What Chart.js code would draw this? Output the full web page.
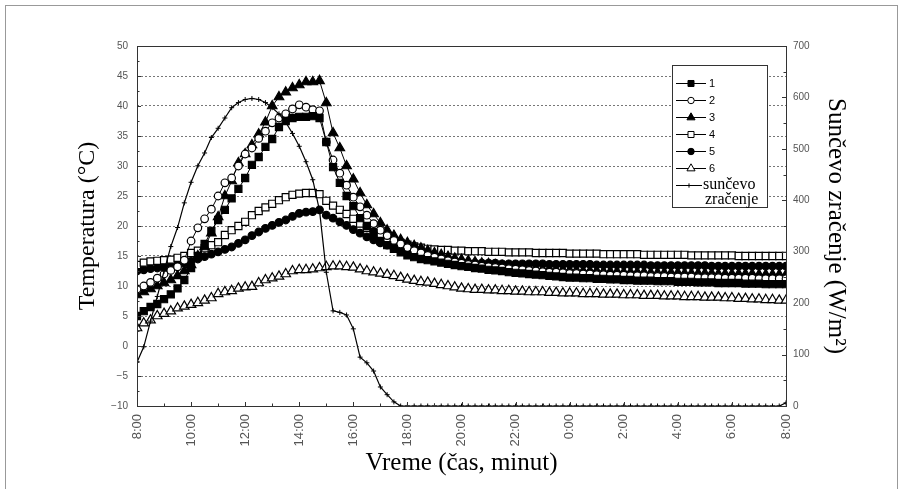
<!DOCTYPE html>
<html>
<head>
<meta charset="utf-8">
<script src="https://cdn.jsdelivr.net/npm/chart.js@4.4.1/dist/chart.umd.min.js"></script>
<style>
  html, body { margin: 0; padding: 0; background: #fff; }
</style>
</head>
<body>
<canvas id="chart" width="905" height="489"></canvas>
<script>
// x axis labels, one every 2 hours (8:00 -> 8:00 next day)
const tickLabels = ["8:00", "10:00", "12:00", "14:00", "16:00", "18:00", "20:00",
                    "22:00", "0:00", "2:00", "4:00", "6:00", "8:00"];
const stepHours = 0.25; // one reading every 15 min

// temperatures (°C), each row = 2 hours of readings
const s1 = [
  5.0, 5.8, 6.5, 7.0, 7.8, 8.6, 9.6, 11.0,
  13.0, 15.0, 17.0, 19.2, 21.0, 22.7, 24.6, 26.2,
  28.0, 30.2, 31.5, 33.2, 34.5, 36.5, 37.5, 38.0,
  38.2, 38.2, 38.3, 38.0, 34.0, 29.8, 27.2, 25.0,
  23.3, 21.3, 20.0, 18.8, 17.5, 16.8, 16.2, 15.6,
  15.1, 14.8, 14.5, 14.3, 14.1, 13.9, 13.7, 13.5,
  13.3, 13.2, 13.0, 12.9, 12.7, 12.6, 12.5, 12.3,
  12.2, 12.1, 12.0, 11.9, 11.8, 11.7, 11.6, 11.5,
  11.4, 11.4, 11.3, 11.3, 11.2, 11.2, 11.1, 11.1,
  11.0, 11.0, 10.9, 10.9, 10.9, 10.8, 10.8, 10.8,
  10.7, 10.7, 10.7, 10.6, 10.6, 10.6, 10.5, 10.5,
  10.5, 10.5, 10.4, 10.4, 10.4, 10.3, 10.3, 10.3,
  10.3
];
const s2 = [
  9.5, 10.0, 10.6, 11.3, 12.0, 12.6, 13.2, 14.3,
  17.5, 19.7, 21.2, 22.8, 25.0, 27.2, 28.0, 30.0,
  32.0, 33.0, 34.6, 35.8, 37.2, 38.0, 38.7, 39.5,
  40.2, 39.8, 39.4, 39.2, 34.0, 31.0, 28.8, 26.8,
  24.8, 23.2, 21.8, 20.4, 19.3, 18.4, 17.6, 17.0,
  16.4, 15.9, 15.5, 15.1, 14.8, 14.5, 14.2, 14.0,
  13.8, 13.6, 13.5, 13.3, 13.2, 13.1, 13.0, 12.9,
  12.8, 12.7, 12.6, 12.5, 12.4, 12.3, 12.3, 12.2,
  12.1, 12.1, 12.0, 12.0, 11.9, 11.9, 11.8, 11.8,
  11.8, 11.7, 11.7, 11.7, 11.6, 11.6, 11.6, 11.5,
  11.5, 11.5, 11.5, 11.4, 11.4, 11.4, 11.4, 11.3,
  11.3, 11.3, 11.3, 11.3, 11.2, 11.2, 11.2, 11.2,
  11.2
];
const s3 = [
  8.5, 9.0, 9.5, 10.0, 10.5, 11.0, 11.7, 12.5,
  13.5, 15.0, 16.5, 18.8, 21.5, 25.0, 27.5, 30.5,
  32.0, 33.5, 35.3, 37.3, 40.0, 41.5, 42.3, 43.0,
  43.5, 44.0, 44.0, 44.2, 40.5, 35.5, 33.0, 30.0,
  27.8, 25.5, 23.5, 22.0, 20.5, 19.3, 18.4, 17.7,
  17.2, 16.7, 16.3, 15.9, 15.5, 15.2, 14.9, 14.6,
  14.4, 14.2, 14.0, 13.8, 13.7, 13.5, 13.4, 13.3,
  13.2, 13.1, 13.0, 12.9, 12.8, 12.8, 12.7, 12.7,
  12.6, 12.6, 12.5, 12.5, 12.5, 12.4, 12.4, 12.4,
  12.3, 12.3, 12.3, 12.3, 12.2, 12.2, 12.2, 12.2,
  12.2, 12.1, 12.1, 12.1, 12.1, 12.1, 12.0, 12.0,
  12.0, 12.0, 12.0, 12.0, 11.9, 11.9, 11.9, 11.9,
  11.9
];
const s4 = [
  13.5, 13.9, 14.1, 14.2, 14.3, 14.4, 14.7, 15.0,
  15.5, 15.9, 16.3, 16.8, 17.3, 18.5, 19.3, 20.0,
  20.7, 21.8, 22.5, 23.1, 23.7, 24.3, 24.8, 25.2,
  25.4, 25.5, 25.5, 25.3, 24.2, 23.4, 22.7, 22.0,
  21.2, 20.4, 19.7, 19.0, 18.3, 17.9, 17.5, 17.2,
  16.9, 16.6, 16.4, 16.2, 16.1, 16.0, 16.0, 15.9,
  15.9, 15.8, 15.8, 15.8, 15.7, 15.7, 15.7, 15.6,
  15.6, 15.6, 15.6, 15.5, 15.5, 15.5, 15.5, 15.5,
  15.4, 15.4, 15.4, 15.4, 15.4, 15.3, 15.3, 15.3,
  15.3, 15.3, 15.3, 15.2, 15.2, 15.2, 15.2, 15.2,
  15.2, 15.2, 15.1, 15.1, 15.1, 15.1, 15.1, 15.1,
  15.1, 15.0, 15.0, 15.0, 15.0, 15.0, 15.0, 15.0,
  15.0
];
const s5 = [
  12.5, 12.7, 12.9, 13.0, 13.1, 13.3, 13.5, 13.8,
  14.1, 14.5, 14.9, 15.3, 15.7, 16.1, 16.5, 17.1,
  17.7, 18.4, 19.0, 19.6, 20.1, 20.6, 21.0, 21.6,
  22.1, 22.3, 22.4, 22.7, 21.8, 21.3, 20.7, 20.1,
  19.4, 18.8, 18.2, 17.7, 17.2, 16.8, 16.3, 15.9,
  15.5, 15.2, 15.0, 14.7, 14.5, 14.2, 14.0, 13.9,
  13.8, 13.8, 13.8, 13.8, 13.8, 13.8, 13.7, 13.7,
  13.7, 13.7, 13.7, 13.7, 13.7, 13.6, 13.6, 13.6,
  13.6, 13.6, 13.6, 13.6, 13.5, 13.5, 13.5, 13.5,
  13.5, 13.5, 13.5, 13.5, 13.4, 13.4, 13.4, 13.4,
  13.4, 13.4, 13.4, 13.4, 13.4, 13.3, 13.3, 13.3,
  13.3, 13.3, 13.3, 13.3, 13.3, 13.3, 13.3, 13.3,
  13.3
];
const s6 = [
  3.0, 3.8, 4.3, 5.0, 5.4, 5.8, 6.3, 6.6,
  6.9, 7.2, 7.6, 8.0, 8.7, 9.0, 9.2, 9.6,
  9.8, 9.9, 10.5, 11.0, 11.3, 11.6, 12.0, 12.5,
  12.7, 12.7, 12.8, 13.0, 13.2, 13.3, 13.3, 13.2,
  13.1, 12.8, 12.5, 12.3, 12.1, 11.9, 11.7, 11.4,
  11.1, 10.9, 10.7, 10.6, 10.4, 10.2, 10.0, 9.8,
  9.6, 9.5, 9.4, 9.4, 9.3, 9.3, 9.2, 9.2,
  9.1, 9.1, 9.0, 9.0, 9.0, 8.9, 8.9, 8.8,
  8.8, 8.8, 8.7, 8.7, 8.7, 8.6, 8.6, 8.6,
  8.5, 8.5, 8.5, 8.4, 8.4, 8.4, 8.3, 8.3,
  8.3, 8.2, 8.2, 8.2, 8.1, 8.1, 8.1, 8.0,
  8.0, 7.9, 7.9, 7.8, 7.8, 7.7, 7.7, 7.6,
  7.6
];
// solar radiation (W/m2)
const solar = [
  85, 115, 165, 213, 262, 310, 347, 395,
  435, 467, 492, 522, 540, 560, 580, 590,
  596, 598, 596, 590, 580, 568, 552, 530,
  505, 475, 440, 380, 260, 185, 182, 177,
  150, 95, 84, 68, 37, 22, 8, 0,
  0, 0, 0, 0, 0, 0, 0, 0,
  0, 0, 0, 0, 0, 0, 0, 0,
  0, 0, 0, 0, 0, 0, 0, 0,
  0, 0, 0, 0, 0, 0, 0, 0,
  0, 0, 0, 0, 0, 0, 0, 0,
  0, 0, 0, 0, 0, 0, 0, 0,
  0, 0, 0, 0, 0, 0, 0, 0,
  6
];

const toPoints = arr => arr.map((v, i) => ({x: i * stepHours, y: v}));

function series(label, data, style, filled, radius) {
    return {
        label: label,
        data: toPoints(data),
        yAxisID: 'y',
        borderColor: '#000',
        borderWidth: 1,
        pointStyle: style,
        pointRadius: radius,
        pointHoverRadius: radius,
        pointBackgroundColor: filled ? '#000' : '#fff',
        pointBorderColor: '#000',
        pointBorderWidth: 1.2,
        tension: 0,
        order: 1
    };
}

const datasets = [
    series('1', s1, 'rect', true, 5),
    series('2', s2, 'circle', false, 3.8),
    series('3', s3, 'triangle', true, 5.5),
    series('4', s4, 'rect', false, 5),
    series('5', s5, 'circle', true, 3.8),
    series('6', s6, 'triangle', false, 5.5),
    {
        label: 'sunčevo zračenje',
        data: toPoints(solar),
        yAxisID: 'y1',
        borderColor: '#000',
        borderWidth: 1.2,
        pointStyle: 'cross',
        pointRadius: 2.5,
        pointHoverRadius: 2.5,
        pointBorderColor: '#000',
        pointBackgroundColor: '#000',
        pointBorderWidth: 1,
        tension: 0,
        order: 0
    }
];

const tickFont = {family: 'Liberation Sans', size: 10};

// outer frame of the figure
const framePlugin = {
    id: 'frame',
    beforeDraw(chart) {
        const ctx = chart.ctx;
        ctx.save();
        ctx.strokeStyle = '#999';
        ctx.lineWidth = 1;
        ctx.strokeRect(5.5, 5.5, 892, 600);
        ctx.restore();
    },
    afterDatasetsDraw(chart) {
        const ctx = chart.ctx;
        const {left, right, top, bottom} = chart.chartArea;
        const sx = chart.scales.x, sy = chart.scales.y, sy1 = chart.scales.y1;
        ctx.save();
        ctx.strokeStyle = '#333';
        ctx.lineWidth = 1;
        ctx.strokeRect(Math.round(left) + 0.5, Math.round(top) + 0.5,
                       Math.round(right - left), Math.round(bottom - top));
        ctx.beginPath();
        // inward ticks
        for (let v = -10; v <= 50; v += 2.5) {
            const y = Math.round(sy.getPixelForValue(v)) + 0.5;
            const len = v % 5 === 0 ? 4 : 2.5;
            ctx.moveTo(left, y); ctx.lineTo(left + len, y);
        }
        for (let v = 0; v <= 700; v += 50) {
            const y = Math.round(sy1.getPixelForValue(v)) + 0.5;
            const len = v % 100 === 0 ? 4 : 2.5;
            ctx.moveTo(right, y); ctx.lineTo(right - len, y);
        }
        for (let h = 0; h <= 24; h += 1) {
            const x = Math.round(sx.getPixelForValue(h)) + 0.5;
            const len = h % 2 === 0 ? 4 : 2.5;
            ctx.moveTo(x, bottom); ctx.lineTo(x, bottom - len);
        }
        ctx.stroke();
        ctx.restore();
    }
};

// boxed legend inside the plot
const legendPlugin = {
    id: 'boxLegend',
    afterDraw(chart) {
        const ctx = chart.ctx;
        const x0 = 672, y0 = 65, w = 95, h = 142;
        ctx.save();
        ctx.fillStyle = '#fff';
        ctx.fillRect(x0, y0, w, h);
        ctx.strokeStyle = '#333';
        ctx.lineWidth = 1;
        ctx.strokeRect(x0 + 0.5, y0 + 0.5, w, h);
        chart.data.datasets.forEach((ds, k) => {
            const y = 83 + 17 * k;
            const last = k === chart.data.datasets.length - 1;
            ctx.strokeStyle = '#000';
            ctx.lineWidth = 1;
            ctx.beginPath();
            ctx.moveTo(676, y + 0.5);
            ctx.lineTo(last ? 702 : 706, y + 0.5);
            ctx.stroke();
            ctx.fillStyle = ds.pointBackgroundColor;
            Chart.helpers.drawPoint(ctx, {
                pointStyle: ds.pointStyle, radius: ds.pointRadius * 0.85, rotation: 0, borderWidth: 1
            }, last ? 689 : 691, y + 0.5);
            ctx.fillStyle = '#000';
            ctx.textBaseline = 'middle';
            ctx.textAlign = 'left';
            if (last) {
                ctx.font = '16px "Liberation Serif"';
                const parts = ds.label.split(' ');
                ctx.fillText(parts[0], 703, y);
                ctx.fillText(parts[1], 705, y + 15);
            } else {
                ctx.font = '11px "Liberation Sans"';
                ctx.fillText(ds.label, 709, y + 1);
            }
        });
        ctx.restore();
    }
};

new Chart(document.getElementById('chart'), {
    type: 'line',
    data: {datasets: datasets},
    options: {
        responsive: false,
        animation: false,
        devicePixelRatio: 1,
        layout: {padding: {top: 46, left: 0, right: 0, bottom: 0}},
        plugins: {
            legend: {display: false},
            tooltip: {enabled: false}
        },
        scales: {
            x: {
                type: 'linear',
                min: 0,
                max: 24,
                ticks: {
                    stepSize: 2,
                    autoSkip: false,
                    maxRotation: 90,
                    minRotation: 90,
                    padding: 8,
                    color: '#555',
                    font: {family: 'Liberation Sans', size: 13},
                    callback: v => tickLabels[v / 2]
                },
                grid: {display: false, drawTicks: false},
                border: {display: false},
                title: {
                    display: true,
                    text: 'Vreme (čas, minut)',
                    color: '#000',
                    font: {family: 'Liberation Serif', size: 25},
                    padding: {top: 0, bottom: 11}
                },
                afterFit: s => { s.height = 83; }
            },
            y: {
                position: 'left',
                min: -10,
                max: 50,
                ticks: {
                    stepSize: 5,
                    padding: 9,
                    color: '#555',
                    font: tickFont,
                    callback: v => v < 0 ? '\u2212' + (-v) : String(v)
                },
                grid: {
                    drawTicks: false,
                    lineWidth: 1,
                    color: c => (c.tick && (c.tick.value === 50 || c.tick.value === -10)) ? 'rgba(0,0,0,0)' : '#777'
                },
                border: {display: false, dash: [2, 2]},
                title: {
                    display: true,
                    text: 'Temperatura (°C)',
                    color: '#000',
                    font: {family: 'Liberation Serif', size: 24},
                    padding: {top: 73, bottom: 0}
                },
                afterFit: s => { s.width = 137; }
            },
            y1: {
                position: 'right',
                min: 0,
                max: 700,
                ticks: {
                    stepSize: 100,
                    padding: 7,
                    color: '#555',
                    font: tickFont
                },
                grid: {display: false, drawTicks: false},
                border: {display: false},
                title: {
                    display: true,
                    text: 'Sunčevo zračenje (W/m²)',
                    color: '#000',
                    font: {family: 'Liberation Serif', size: 25},
                    padding: {top: 54, bottom: 0}
                },
                afterFit: s => { s.width = 119; }
            }
        }
    },
    plugins: [framePlugin, legendPlugin]
});
</script>
</body>
</html>
